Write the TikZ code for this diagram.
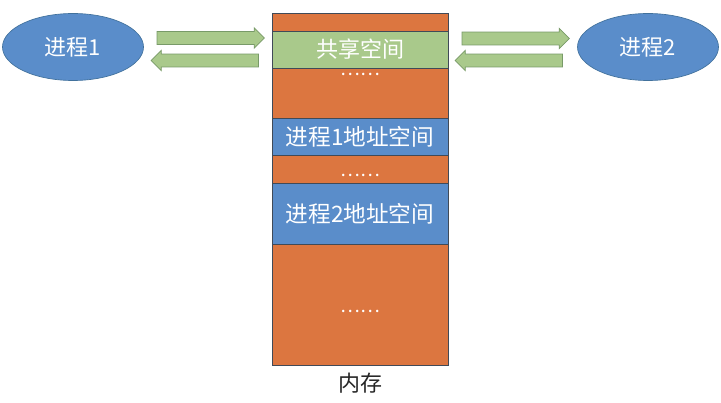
\documentclass[tikz,border=0pt]{standalone}
\usepackage{fontspec}
\newfontfamily\cjk{Noto Sans CJK SC}
\usetikzlibrary{shapes.geometric,shapes.arrows,positioning}
\definecolor{procblue}{HTML}{5A8DCA}
\definecolor{procedge}{HTML}{41719C}
\definecolor{memorange}{HTML}{DC7640}
\definecolor{sharegreen}{HTML}{A9C98B}
\definecolor{arrowedge}{HTML}{789A68}
\definecolor{memedge}{HTML}{404A58}
\begin{document}
\begin{tikzpicture}[x=0.75pt,y=-0.75pt,
  proc/.style={ellipse, draw=procedge, fill=procblue, line width=0.5pt, minimum width=105.75pt, minimum height=50.25pt, text=white, font=\cjk\fontsize{16.5}{16.5}\selectfont},
  band/.style={rectangle, draw=memedge, line width=0.4pt, minimum width=132pt, inner sep=0pt, outer sep=0pt, text=white, font=\cjk\fontsize{17}{17}\selectfont},
  flow/.style={single arrow, draw=arrowedge, fill=sharegreen, line width=0.5pt, inner xsep=0pt, inner ysep=4.6pt, minimum height=80.5pt, single arrow head extend=2.8pt},
  dots/.style={text=white, inner sep=0pt, text height=8pt, text depth=0pt, font=\cjk\fontsize{14}{14}\selectfont}]
  \useasboundingbox (0,0) rectangle (721,403);
  % 内存
  \node[band, fill=memorange, minimum height=13.5pt] (b0) at (360,22) {};
  \node[band, fill=sharegreen, minimum height=27.75pt, below=0pt of b0, font=\cjk\fontsize{16.5}{16.5}\selectfont] (share) {共享空间};
  \node[band, fill=memorange, minimum height=37.5pt, below=0pt of share] (b2) {};
  \node[band, fill=procblue, minimum height=27.75pt, below=0pt of b2] (space1) {进程1地址空间};
  \node[band, fill=memorange, minimum height=21pt, below=0pt of space1] (b4) {};
  \node[band, fill=procblue, minimum height=45.75pt, below=0pt of b4] (space2) {进程2地址空间};
  \node[band, fill=memorange, minimum height=90.75pt, below=0pt of space2] (b6) {};
  \draw[memedge, line width=0.6pt] (b0.north west) rectangle (b6.south east);
  \node[dots] (d1) at (360,70) {……}; \node[dots] (d2) at (360,171) {……}; \node[dots] (d3) at (360,307) {……};
  \node[font=\cjk\fontsize{16.5}{16.5}\selectfont, text=black!85] (mem) at (360,383) {内存};
  % 进程
  \node[proc] (p1) at (73,47) {进程1};
  \node[proc] (p2) at (648,47) {进程2};
  \node[flow] (a1) at (207.5,38) {}; \node[flow, shape border rotate=180] (a2) at (208,60.5) {};
  \node[flow] (a3) at (512.5,38.5) {}; \node[flow, shape border rotate=180] (a4) at (512,60.5) {};
\end{tikzpicture}
\end{document}
